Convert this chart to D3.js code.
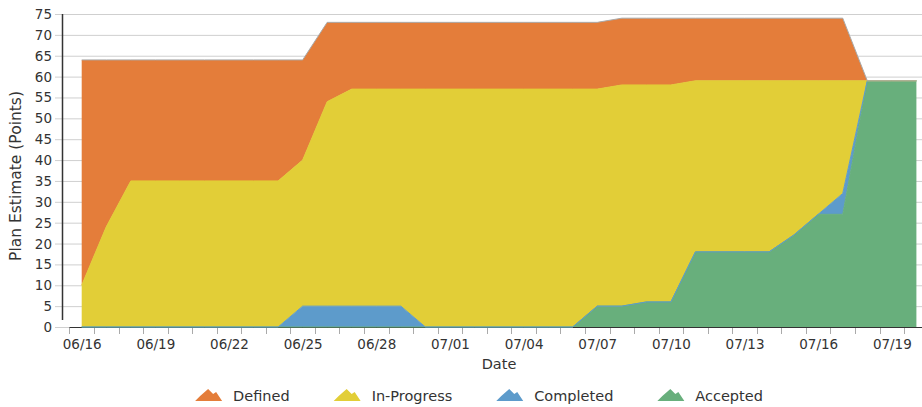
<!DOCTYPE html>
<html>
<head>
<meta charset="utf-8">
<script src="https://cdn.jsdelivr.net/npm/d3@7"></script>
<style>
  body { margin: 0; background: #fff; }
  svg { display: block; font-family: "DejaVu Sans", sans-serif; }
</style>
</head>
<body>
<svg width="922" height="407"></svg>
<script>
const dates = [
  "06/16", "06/17", "06/18", "06/19", "06/20", "06/21", "06/22", "06/23", "06/24", "06/25",
  "06/26", "06/27", "06/28", "06/29", "06/30", "07/01", "07/02", "07/03", "07/04", "07/05",
  "07/06", "07/07", "07/08", "07/09", "07/10", "07/11", "07/12", "07/13", "07/14", "07/15",
  "07/16", "07/17", "07/18", "07/19", "07/20"
];
const xTickLabels = ["06/16", "06/19", "06/22", "06/25", "06/28", "07/01", "07/04", "07/07", "07/10", "07/13", "07/16", "07/19"];
const yTicks = [0, 5, 10, 15, 20, 25, 30, 35, 40, 45, 50, 55, 60, 65, 70, 75];

const defined = [54, 40, 29, 29, 29, 29, 29, 29, 29, 24, 19, 16, 16, 16, 16, 16, 16, 16, 16, 16,
  16, 16, 16, 16, 16, 15, 15, 15, 15, 15, 15, 15, 0, 0, 0];
const inProgress = [10, 24, 35, 35, 35, 35, 35, 35, 35, 35, 49, 52, 52, 52, 57, 57, 57, 57, 57, 57,
  57, 52, 53, 52, 52, 41, 41, 41, 41, 37, 32, 27, 0, 0, 0];
const completed = [0, 0, 0, 0, 0, 0, 0, 0, 0, 5, 5, 5, 5, 5, 0, 0, 0, 0, 0, 0,
  0, 0, 0, 0, 0, 0, 0, 0, 0, 0, 0, 5, 0, 0, 0];
const accepted = [0, 0, 0, 0, 0, 0, 0, 0, 0, 0, 0, 0, 0, 0, 0, 0, 0, 0, 0, 0,
  0, 5, 5, 6, 6, 18, 18, 18, 18, 22, 27, 27, 59, 59, 59];

const seriesNames = ["Defined", "In-Progress", "Completed", "Accepted"];
const colors = { "Defined": "#e47d3a", "In-Progress": "#e2ce37", "Completed": "#5d9bcb", "Accepted": "#68af7c" };

const svg = d3.select("svg");
const width = 922;

const rows = dates.map((d, i) => ({
  date: d,
  "Accepted": accepted[i],
  "Completed": completed[i],
  "In-Progress": inProgress[i],
  "Defined": defined[i]
}));

const stackOrder = ["Accepted", "Completed", "In-Progress", "Defined"];
const stacked = d3.stack().keys(stackOrder)(rows);

const x = d3.scalePoint().domain(dates).range([81.7, 916.4]);
const y = d3.scaleLinear().domain([0, 75]).range([327, 14]);
const step = x.step();

// gridlines
svg.append("g")
  .selectAll("line")
  .data(yTicks)
  .join("line")
  .attr("x1", 55).attr("x2", width)
  .attr("y1", d => y(d) + 0.5).attr("y2", d => y(d) + 0.5)
  .attr("stroke", "#cfcfcf")
  .attr("stroke-width", 1);

// x axis line (sits under the areas)
svg.append("line")
  .attr("x1", x(dates[0]) - step / 2).attr("x2", width)
  .attr("y1", y(0) + 0.5).attr("y2", y(0) + 0.5)
  .attr("stroke", "#333").attr("stroke-width", 1.2);

const area = d3.area()
  .x(d => x(d.data.date))
  .y0(d => y(d[0]))
  .y1(d => y(d[1]));

const topLine = d3.line()
  .x(d => x(d.data.date))
  .y(d => y(d[1]));

svg.append("g")
  .selectAll("path")
  .data(stacked)
  .join("path")
  .attr("d", area)
  .attr("fill", d => colors[d.key]);

// top edge of each series
svg.append("g")
  .selectAll("path")
  .data(stacked)
  .join("path")
  .attr("d", topLine)
  .attr("fill", "none")
  .attr("stroke", d => d.key === "Defined" ? "#a9a9a9" : colors[d.key])
  .attr("stroke-width", 1);

// y axis
svg.append("line")
  .attr("x1", 62.5).attr("x2", 62.5)
  .attr("y1", y(75)).attr("y2", 320)
  .attr("stroke", "#333").attr("stroke-width", 1.5);

svg.append("g")
  .selectAll("text")
  .data(yTicks)
  .join("text")
  .attr("x", 52)
  .attr("y", d => y(d) + 5)
  .attr("text-anchor", "end")
  .attr("font-size", 13.5)
  .attr("fill", "#333")
  .text(d => d);

// x axis ticks at day boundaries
const xAxis = d3.axisBottom(x)
  .tickValues(xTickLabels)
  .tickSize(0)
  .tickPadding(12);

const gx = svg.append("g")
  .attr("transform", `translate(0,${y(0)})`)
  .call(xAxis);
gx.select(".domain").remove();
gx.selectAll("text")
  .attr("font-size", 13.5)
  .attr("font-family", "DejaVu Sans, sans-serif")
  .attr("fill", "#333");

svg.append("g")
  .selectAll("line")
  .data(dates)
  .join("line")
  .attr("x1", d => Math.round(x(d) - step / 2) + 0.5)
  .attr("x2", d => Math.round(x(d) - step / 2) + 0.5)
  .attr("y1", y(0) + 1).attr("y2", y(0) + 7)
  .attr("stroke", "#aaa");

// axis titles
svg.append("text")
  .attr("transform", "translate(21,176) rotate(-90)")
  .attr("text-anchor", "middle")
  .attr("font-size", 15.5)
  .attr("fill", "#333")
  .text("Plan Estimate (Points)");

svg.append("text")
  .attr("x", 499).attr("y", 369)
  .attr("text-anchor", "middle")
  .attr("font-size", 14.5)
  .attr("fill", "#333")
  .text("Date");

// legend
const iconPath = "M0,12 L5,7 L13,0 L18,5 L21,3 L27,12 Z";
const legend = svg.append("g");
const items = legend.selectAll("g")
  .data(seriesNames)
  .join("g");
items.append("path")
  .attr("d", iconPath)
  .attr("fill", d => colors[d]);
items.append("text")
  .attr("x", 38)
  .attr("y", 12)
  .attr("font-size", 14.5)
  .attr("fill", "#333")
  .text(d => d);

let cursor = 0;
items.each(function () {
  const w = this.querySelector("text").getComputedTextLength();
  d3.select(this).attr("data-w", w);
});
const gap = 44;
const widths = items.nodes().map(n => 38 + (+n.getAttribute("data-w")));
const total = d3.sum(widths) + gap * (widths.length - 1);
cursor = 479 - total / 2;
items.each(function (d, i) {
  d3.select(this).attr("transform", `translate(${cursor},389)`);
  cursor += widths[i] + gap;
});
</script>
</body>
</html>
